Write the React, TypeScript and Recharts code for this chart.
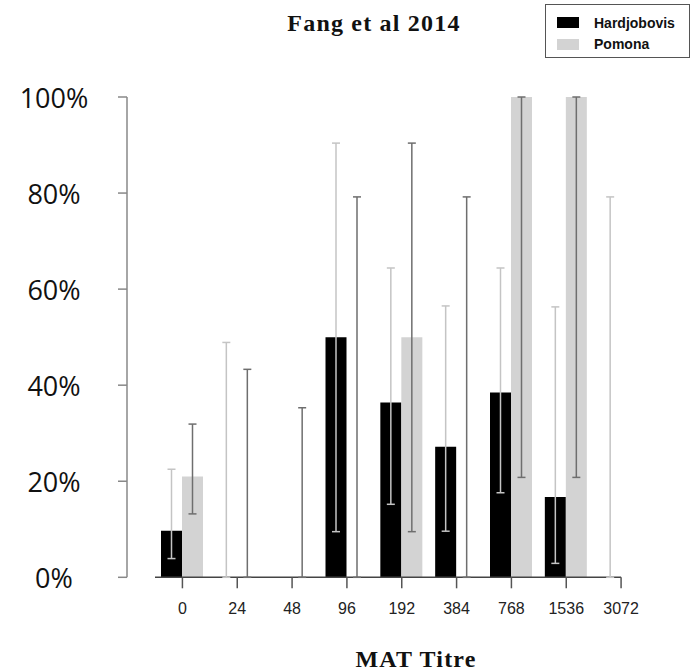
import React from 'react';
import { BarChart, Bar, XAxis, YAxis, ErrorBar, Legend, ReferenceLine } from 'recharts';

const titres = ['0', '24', '48', '96', '192', '384', '768', '1536', '3072'];
const hardjoValues = [9.7, 0, null, 50, 36.4, 27.2, 38.5, 16.7, 0];
const hardjoLower = [3.9, 0, null, 9.5, 15.2, 9.6, 17.6, 2.9, 0];
const hardjoUpper = [22.5, 48.9, null, 90.4, 64.4, 56.5, 64.4, 56.3, 79.2];
const pomonaValues = [21.0, 0, 0, 0, 50, 0, 100, 100, null];
const pomonaLower = [13.2, 0, 0, 0, 9.5, 0, 20.8, 20.8, null];
const pomonaUpper = [31.9, 43.3, 35.3, 79.2, 90.4, 79.2, 100, 100, null];
const yTicks = [0, 20, 40, 60, 80, 100];

const errOf = (v: number | null, lo: number | null, hi: number | null) =>
  v == null || lo == null || hi == null ? undefined : [v - lo, hi - v];

const data = titres.map((t, i) => ({
  titre: t,
  idx: i,
  hardjo: hardjoValues[i],
  hardjoErr: errOf(hardjoValues[i], hardjoLower[i], hardjoUpper[i]),
  pomona: pomonaValues[i],
  pomonaErr: errOf(pomonaValues[i], pomonaLower[i], pomonaUpper[i]),
}));

const YTick = (props: any) => {
  const { y, payload } = props;
  return (
    <text
      x={54}
      y={y}
      textAnchor="middle"
      dominantBaseline="central"
      fontFamily="'Open Sans', sans-serif"
      fontSize={27}
      fill="#111"
    >
      {payload.value}%
    </text>
  );
};

const LegendBox = (props: any) => {
  const { payload } = props;
  return (
    <div
      style={{
        width: 145,
        height: 54,
        border: '1px solid #555',
        background: '#fff',
        boxSizing: 'border-box',
        paddingTop: 7,
      }}
    >
      {(payload || []).map((p: any) => (
        <div
          key={p.value}
          style={{ display: 'flex', alignItems: 'center', height: 21.5, marginLeft: 11 }}
        >
          <div style={{ width: 22, height: 11, background: p.color, marginRight: 15 }} />
          <span
            style={{
              fontFamily: "'Liberation Sans', Arial, sans-serif",
              fontWeight: 'bold',
              fontSize: 14,
              color: '#111',
            }}
          >
            {p.value}
          </span>
        </div>
      ))}
    </div>
  );
};

export default function App() {
  return (
    <div style={{ position: 'absolute', left: 0, top: 0, width: 700, height: 670, background: '#fff' }}>
      <BarChart
        width={700}
        height={670}
        data={data}
        margin={{ top: 97, right: 51.5, bottom: 0, left: 0 }}
        barSize={21}
        barGap={0}
      >
        <text
          x={374}
          y={30.5}
          textAnchor="middle"
          fontFamily="'Liberation Serif', 'Times New Roman', serif"
          fontWeight="bold"
          fontSize={24}
          letterSpacing={1.2}
          fill="#111"
        >
          Fang et al 2014
        </text>
        <text
          x={416}
          y={666.5}
          textAnchor="middle"
          fontFamily="'Liberation Serif', 'Times New Roman', serif"
          fontWeight="bold"
          fontSize={24}
          letterSpacing={1.2}
          fill="#111"
        >
          MAT Titre
        </text>
        <XAxis
          dataKey="titre"
          type="category"
          height={92.7}
          padding={{ left: 28, right: 0 }}
          axisLine={false}
          tickLine={{ stroke: '#555', strokeWidth: 1.5 }}
          tickSize={11}
          tickMargin={14}
          interval={0}
          tick={{ fontFamily: "'Liberation Sans', Arial, sans-serif", fontSize: 16, fill: '#222' }}
        />
        <XAxis
          xAxisId="n"
          dataKey="idx"
          type="number"
          domain={[0, titres.length]}
          padding={{ left: 28, right: 0 }}
          allowDataOverflow
          hide
        />
        <YAxis
          width={127}
          domain={[0, 100]}
          ticks={yTicks}
          interval={0}
          axisLine={{ stroke: '#888', strokeWidth: 1.5 }}
          tickLine={{ stroke: '#888', strokeWidth: 1.5 }}
          tickSize={9}
          tick={<YTick />}
        />
        <ReferenceLine
          xAxisId="n"
          segment={[
            { x: 0, y: 0 },
            { x: titres.length - 0.5, y: 0 },
          ]}
          stroke="#444"
          strokeWidth={1.5}
          ifOverflow="visible"
        />
        <Legend
          layout="horizontal"
          verticalAlign="middle"
          align="center"
          content={<LegendBox />}
          wrapperStyle={{ position: 'absolute', left: 545, top: 4, width: 145, height: 54 }}
        />
        <Bar dataKey="hardjo" name="Hardjobovis" fill="#000000" minPointSize={0.01} isAnimationActive={false}>
          <ErrorBar dataKey="hardjoErr" width={4} stroke="#c4c4c4" strokeWidth={1.5} isAnimationActive={false} />
        </Bar>
        <Bar dataKey="pomona" name="Pomona" fill="#d3d3d3" minPointSize={0.01} isAnimationActive={false}>
          <ErrorBar dataKey="pomonaErr" width={4} stroke="#6e6e6e" strokeWidth={1.5} isAnimationActive={false} />
        </Bar>
      </BarChart>
    </div>
  );
}
